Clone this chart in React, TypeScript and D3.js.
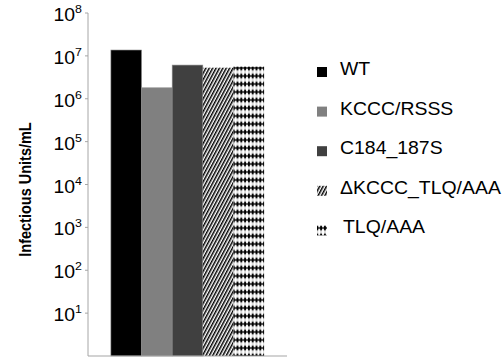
import { useEffect, useRef } from "react";
import * as d3 from "d3";

const width = 503;
const height = 358;
const marginTop = 13;
const marginBottom = 2;
const marginLeft = 88;
const plotRight = 287;

// data
const series = ["WT", "KCCC/RSSS", "C184_187S", "\u0394KCCC_TLQ/AAA", "TLQ/AAA"];
const values = [1.37e7, 1.8e6, 6.1e6, 5.3e6, 5.6e6];
const fills = ["#000000", "#808080", "#404040", "url(#stripes)", "url(#diamonds)"];
const tickExponents = [1, 2, 3, 4, 5, 6, 7, 8];

const App = () => {
  const axisRef = useRef<SVGGElement>(null);
  const chartBottomY = height - marginBottom;

  const yScale = d3.scaleLog().domain([1, 1e8]).range([chartBottomY, marginTop]);

  const groupScale = d3
    .scaleBand()
    .domain(["all"])
    .range([marginLeft, plotRight])
    .padding(0.13);

  const xScale = d3
    .scaleBand()
    .domain(series)
    .range([groupScale("all")!, groupScale("all")! + groupScale.bandwidth()])
    .padding(0);

  useEffect(() => {
    const g = d3.select(axisRef.current);
    g.selectAll("*").remove();
    // y axis line
    g.append("line")
      .attr("x1", marginLeft)
      .attr("x2", marginLeft)
      .attr("y1", marginTop)
      .attr("y2", chartBottomY)
      .attr("stroke", "#a6a6a6");
    g.selectAll(".tick")
      .data(tickExponents)
      .join("line")
      .attr("x1", marginLeft - 3)
      .attr("x2", marginLeft)
      .attr("y1", (d) => yScale(Math.pow(10, d)))
      .attr("y2", (d) => yScale(Math.pow(10, d)))
      .attr("stroke", "#a6a6a6");
    // x axis line
    g.append("line")
      .attr("x1", marginLeft)
      .attr("x2", plotRight)
      .attr("y1", chartBottomY)
      .attr("y2", chartBottomY)
      .attr("stroke", "#a6a6a6")
      .attr("stroke-width", 1.2);
  }, []);

  const legendY = (i: number) => 75 + i * 39.6;

  return (
    <svg
      width={width}
      height={height}
      style={{ position: "absolute", left: 0, top: 0, background: "#fff" }}
      fontFamily="Liberation Sans, Arial, sans-serif"
    >
      <defs>
        <pattern
          id="stripes"
          width={3}
          height={6}
          patternUnits="userSpaceOnUse"
          patternTransform="rotate(28)"
        >
          <rect width={3} height={6} fill="#fff" />
          <rect width={1.5} height={6} fill="#000" />
        </pattern>
        <pattern id="diamonds" width={3.8} height={8} patternUnits="userSpaceOnUse">
          <rect width={3.8} height={8} fill="#fff" />
          <polygon points="1.9,1 3.8,4 1.9,7 0,4" fill="#000" />
          <rect x={1.5} y={0} width={0.8} height={8} fill="#000" opacity={0.35} />
        </pattern>
      </defs>

      <g className="bars">
        {series.map((s, i) => (
          <rect
            key={s}
            x={xScale(s)}
            y={yScale(values[i])}
            width={xScale.bandwidth()}
            height={chartBottomY - yScale(values[i])}
            fill={fills[i]}
            stroke={i < 3 ? "#8c8c8c" : "none"}
            strokeWidth={0.6}
          />
        ))}
      </g>

      <g ref={axisRef} />

      <g className="y-labels">
        {tickExponents.map((e) => (
          <text
            key={e}
            transform={`translate(82,${yScale(Math.pow(10, e)) + 8}) scale(1.08,1)`}
            textAnchor="end"
            fontSize={18}
            fill="#000"
          >
            10
            <tspan fontSize={11.5} dy={-8}>
              {e}
            </tspan>
          </text>
        ))}
      </g>

      <text
        transform={`translate(31,${(marginTop + chartBottomY) / 2 + 5}) rotate(-90) scale(1,1.15)`}
        textAnchor="middle"
        fontSize={14.5}
        fontWeight="bold"
        fill="#000"
      >
        Infectious Units/mL
      </text>

      <g className="legend">
        {series.map((s, i) => (
          <g key={s}>
            <rect
              x={317}
              y={legendY(i) - 8}
              width={10}
              height={10}
              fill={fills[i]}
            />
            <text
              transform={`translate(${i === 4 ? 343 : 340},${legendY(i)}) scale(1.08,1)`}
              fontSize={18}
              fill="#000"
            >
              {s}
            </text>
          </g>
        ))}
      </g>
    </svg>
  );
};

export default App;
